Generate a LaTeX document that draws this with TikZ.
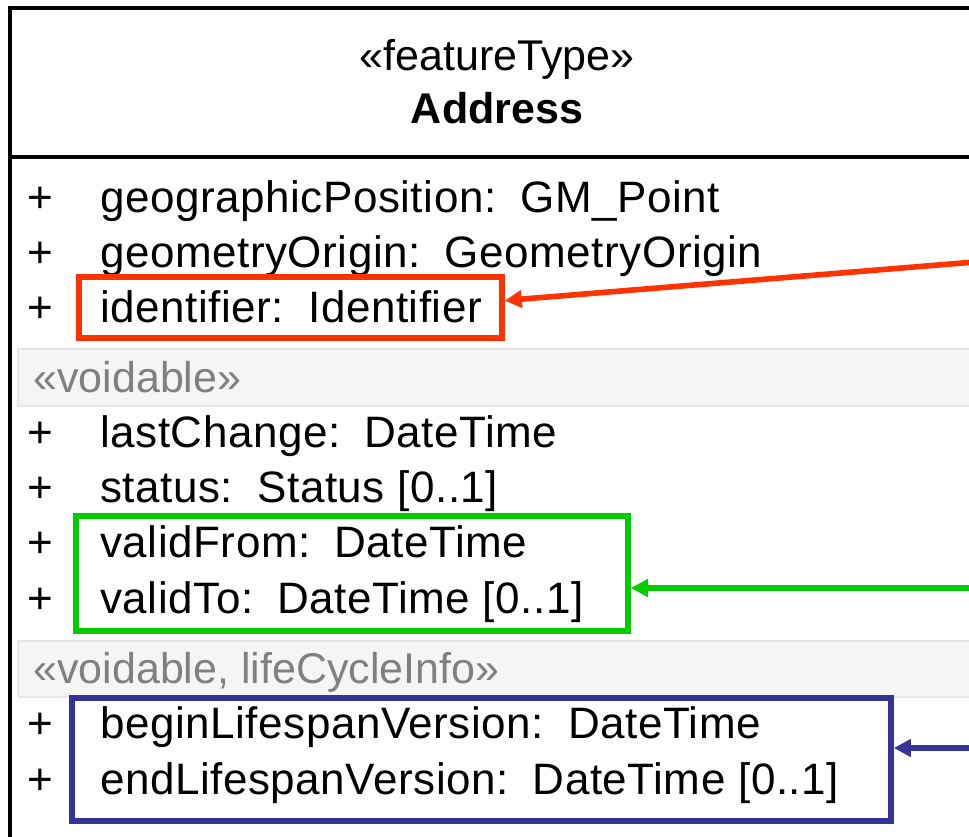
\documentclass[tikz,border=0pt]{standalone}
\usepackage{fontspec}
\setmainfont{Liberation Sans}
\usetikzlibrary{arrows.meta,positioning}
\definecolor{hlred}{HTML}{FF3300}
\definecolor{hlgreen}{HTML}{00CC00}
\definecolor{hlblue}{HTML}{333399}
\definecolor{bandfill}{HTML}{F5F5F5}
\definecolor{bandline}{HTML}{E6E6E6}
\definecolor{stereogray}{HTML}{808080}
\newcommand{\attsep}{:\hspace{0.55em}}

\begin{document}
\begin{tikzpicture}[x=0.5pt,y=-0.5pt,
  attr/.style={anchor=base west,inner sep=0pt,font=\fontsize{22}{26}\selectfont\addfontfeature{LetterSpace=1.2}},
  vis/.style={anchor=base,inner sep=0pt,font=\fontsize{22}{26}\selectfont},
  head/.style={anchor=base,inner sep=0pt,font=\fontsize{21.5}{26}\selectfont},
  band/.style={fill=bandfill,draw=bandline,line width=1pt},
  stereo/.style={anchor=base west,inner sep=0pt,font=\fontsize{21.5}{26}\selectfont,text=stereogray},
  hl/.style={draw=#1,line width=2.8pt,inner sep=0pt},
  hlarrow/.style={draw=#1,line width=2.8pt,-{Triangle[length=8.5pt,width=8.5pt]}}]
  \useasboundingbox (0,0) rectangle (969,836);
  \clip (0,0) rectangle (969,836);
  \fill[white] (0,0) rectangle (969,836);

  \draw[band] (18,349) rectangle (1000,406);
  \draw[band] (18,641) rectangle (1000,697);
  \draw[line width=2pt] (10,860) -- (10,8) -- (1000,8);
  \draw[line width=2pt] (10,157) -- (1000,157);

  \node[head] (stype) at (497,70) {«featureType»};
  \node[head,font=\fontsize{21.5}{26}\selectfont\bfseries] (cname) at (497,123) {Address};

  \foreach \y/\t [count=\i] in {212/{geographicPosition\attsep GM\_Point},
      267/{geometryOrigin\attsep GeometryOrigin},
      322/{identifier\attsep Identifier},
      447/{lastChange\attsep DateTime},
      502/{status\attsep Status [0..1]},
      557/{validFrom\attsep DateTime},
      613/{validTo\attsep DateTime [0..1]},
      738/{beginLifespanVersion\attsep DateTime},
      794/{endLifespanVersion\attsep DateTime [0..1]}}
  {
    \node[vis] (p\i) at (40,\y) {+};
    \node[attr] (a\i) at (100,\y) {\t};
  }
  \node[stereo] (s1) at (33,392) {«voidable»};
  \node[stereo] (s2) at (33,683) {«voidable, lifeCycleInfo»};

  \node[hl=hlred,minimum width=211.5pt,minimum height=30.5pt] (idbox) at (290.5,307.5) {};
  \node[hl=hlgreen,minimum width=276pt,minimum height=57.5pt] (validbox) at (352,573.5) {};
  \node[hl=hlblue,minimum width=409.5pt,minimum height=61.5pt] (lifebox) at (481.5,759.5) {};

  \coordinate (rsrc) at (975,262);
  \coordinate (gsrc) at (975,588);
  \coordinate (bsrc) at (975,748);
  \draw[hlarrow=hlred] (rsrc) -- ([yshift=3.5pt]idbox.east);
  \draw[hlarrow=hlgreen] (gsrc) -- (gsrc -| validbox.east);
  \draw[hlarrow=hlblue] (bsrc) -- (bsrc -| lifebox.east);
\end{tikzpicture}
\end{document}
